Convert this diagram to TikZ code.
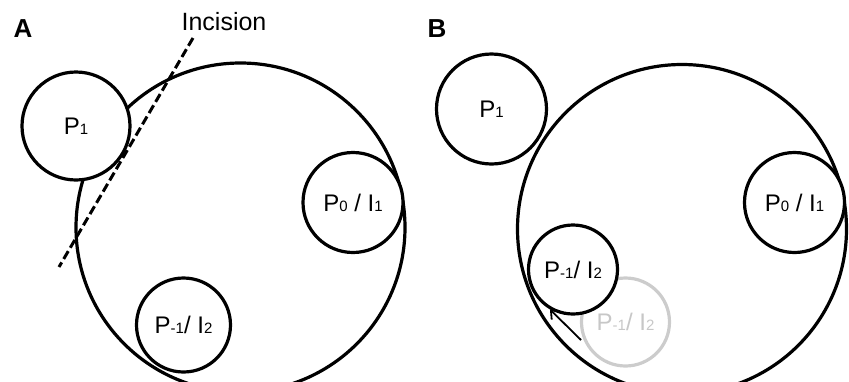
\documentclass[tikz,border=0pt]{standalone}
\usepackage{fontspec}
\setmainfont{Liberation Sans}
\usetikzlibrary{arrows.meta}
\newcommand{\sbs}[1]{{\fontsize{15}{15}\selectfont #1}}
\begin{document}
\begin{tikzpicture}[x=1pt,y=-1pt,
  ring/.style={circle,draw,line width=3.2pt,inner sep=0pt,fill=white,font=\fontsize{24}{24}\selectfont},
  bigring/.style={circle,draw,line width=3.2pt,inner sep=0pt,minimum size=329pt},
  ghost/.style={ring,draw=black!20,text=black!22,fill=none},
  panel/.style={font=\fontsize{26}{26}\selectfont\bfseries}]
\useasboundingbox (0,0) rectangle (849,381);
\clip (0,0) rectangle (849,381);
% Panel A
\node[panel] (la) at (23,29) {A};
\node[bigring] (ca) at (240.5,227.5) {};
\node[ring,minimum size=108pt] (a1) at (76,126) {P\sbs{1}};
\node[ring,minimum size=100pt] (a0) at (353,202.5) {P\sbs{0} / I\sbs{1}};
\node[ring,minimum size=94pt] (am) at (183.5,325) {P\sbs{-1}/ I\sbs{2}};
\node[font=\fontsize{25}{25}\selectfont] (inc) at (224,22) {Incision};
\coordinate (d1) at (193,38);
\coordinate (d2) at (59,267);
\draw[line width=3pt,dash pattern=on 9pt off 4pt] (d1) -- (d2);
% Panel B
\node[panel] (lb) at (437,29) {B};
\node[bigring] (cb) at (682,229) {};
\node[ring,minimum size=110pt] (b1) at (491.5,109) {P\sbs{1}};
\node[ring,minimum size=100pt] (b0) at (794.5,202.5) {P\sbs{0} / I\sbs{1}};
\node[ghost,minimum size=88pt] (bg) at (625.5,322) {P\sbs{-1}/ I\sbs{2}};
\node[ring,minimum size=89pt] (bm) at (573,269.5) {P\sbs{-1}/ I\sbs{2}};
\coordinate (ar) at (581,340);
\draw[line width=1.8pt,-{Straight Barb[length=7pt,width=12pt]}] (ar) -- (bm.-120);
\end{tikzpicture}
\end{document}
